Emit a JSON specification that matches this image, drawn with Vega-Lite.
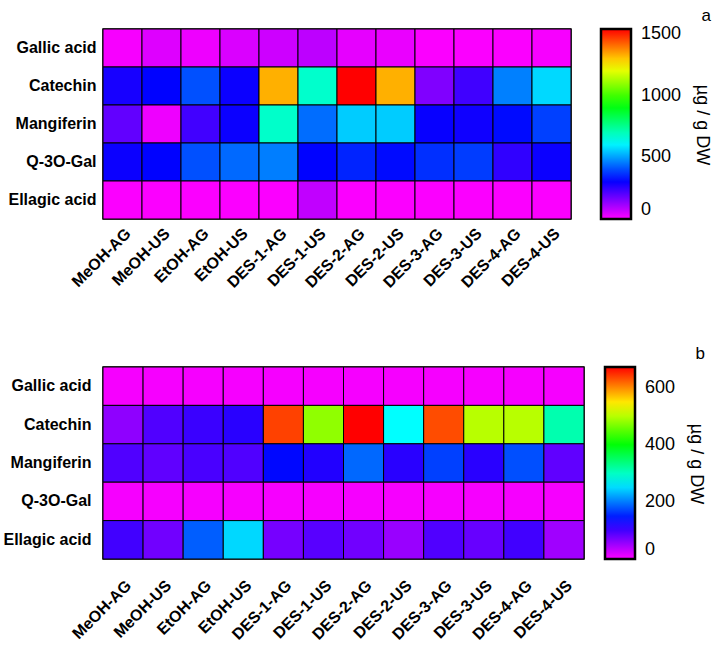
{
  "$schema": "https://vega.github.io/schema/vega-lite/v6.json",
  "background": "white",
  "padding": {"left": 2, "top": 5, "right": 4, "bottom": 0},
  "config": {
    "font": "Liberation Sans",
    "view": {"stroke": "black", "strokeWidth": 1.5},
    "axis": {"labelColor": "black", "labelFontWeight": "bold", "labelFontSize": 16, "ticks": false, "domain": false, "grid": false, "title": null},
    "legend": {"labelColor": "black", "labelFontSize": 18, "titleFontSize": 18, "titleFontWeight": "normal", "titleColor": "black"},
    "title": {"fontSize": 17, "fontWeight": "normal", "color": "black", "anchor": "end"}
  },
  "datasets": {
    "a": [
      {"sample": "MeOH-AG", "compound": "Gallic acid", "value": 10},
      {"sample": "MeOH-US", "compound": "Gallic acid", "value": 40},
      {"sample": "EtOH-AG", "compound": "Gallic acid", "value": 20},
      {"sample": "EtOH-US", "compound": "Gallic acid", "value": 45},
      {"sample": "DES-1-AG", "compound": "Gallic acid", "value": 60},
      {"sample": "DES-1-US", "compound": "Gallic acid", "value": 80},
      {"sample": "DES-2-AG", "compound": "Gallic acid", "value": 30},
      {"sample": "DES-2-US", "compound": "Gallic acid", "value": 25},
      {"sample": "DES-3-AG", "compound": "Gallic acid", "value": 5},
      {"sample": "DES-3-US", "compound": "Gallic acid", "value": 5},
      {"sample": "DES-4-AG", "compound": "Gallic acid", "value": 5},
      {"sample": "DES-4-US", "compound": "Gallic acid", "value": 10},
      {"sample": "MeOH-AG", "compound": "Catechin", "value": 280},
      {"sample": "MeOH-US", "compound": "Catechin", "value": 310},
      {"sample": "EtOH-AG", "compound": "Catechin", "value": 405},
      {"sample": "EtOH-US", "compound": "Catechin", "value": 295},
      {"sample": "DES-1-AG", "compound": "Catechin", "value": 1327},
      {"sample": "DES-1-US", "compound": "Catechin", "value": 678},
      {"sample": "DES-2-AG", "compound": "Catechin", "value": 1540},
      {"sample": "DES-2-US", "compound": "Catechin", "value": 1327},
      {"sample": "DES-3-AG", "compound": "Catechin", "value": 154},
      {"sample": "DES-3-US", "compound": "Catechin", "value": 231},
      {"sample": "DES-4-AG", "compound": "Catechin", "value": 462},
      {"sample": "DES-4-US", "compound": "Catechin", "value": 570},
      {"sample": "MeOH-AG", "compound": "Mangiferin", "value": 190},
      {"sample": "MeOH-US", "compound": "Mangiferin", "value": 20},
      {"sample": "EtOH-AG", "compound": "Mangiferin", "value": 230},
      {"sample": "EtOH-US", "compound": "Mangiferin", "value": 295},
      {"sample": "DES-1-AG", "compound": "Mangiferin", "value": 680},
      {"sample": "DES-1-US", "compound": "Mangiferin", "value": 440},
      {"sample": "DES-2-AG", "compound": "Mangiferin", "value": 555},
      {"sample": "DES-2-US", "compound": "Mangiferin", "value": 555},
      {"sample": "DES-3-AG", "compound": "Mangiferin", "value": 300},
      {"sample": "DES-3-US", "compound": "Mangiferin", "value": 290},
      {"sample": "DES-4-AG", "compound": "Mangiferin", "value": 320},
      {"sample": "DES-4-US", "compound": "Mangiferin", "value": 385},
      {"sample": "MeOH-AG", "compound": "Q-3O-Gal", "value": 295},
      {"sample": "MeOH-US", "compound": "Q-3O-Gal", "value": 310},
      {"sample": "EtOH-AG", "compound": "Q-3O-Gal", "value": 405},
      {"sample": "EtOH-US", "compound": "Q-3O-Gal", "value": 435},
      {"sample": "DES-1-AG", "compound": "Q-3O-Gal", "value": 460},
      {"sample": "DES-1-US", "compound": "Q-3O-Gal", "value": 310},
      {"sample": "DES-2-AG", "compound": "Q-3O-Gal", "value": 350},
      {"sample": "DES-2-US", "compound": "Q-3O-Gal", "value": 320},
      {"sample": "DES-3-AG", "compound": "Q-3O-Gal", "value": 365},
      {"sample": "DES-3-US", "compound": "Q-3O-Gal", "value": 380},
      {"sample": "DES-4-AG", "compound": "Q-3O-Gal", "value": 250},
      {"sample": "DES-4-US", "compound": "Q-3O-Gal", "value": 295},
      {"sample": "MeOH-AG", "compound": "Ellagic acid", "value": 5},
      {"sample": "MeOH-US", "compound": "Ellagic acid", "value": 5},
      {"sample": "EtOH-AG", "compound": "Ellagic acid", "value": 5},
      {"sample": "EtOH-US", "compound": "Ellagic acid", "value": 5},
      {"sample": "DES-1-AG", "compound": "Ellagic acid", "value": 5},
      {"sample": "DES-1-US", "compound": "Ellagic acid", "value": 75},
      {"sample": "DES-2-AG", "compound": "Ellagic acid", "value": 5},
      {"sample": "DES-2-US", "compound": "Ellagic acid", "value": 5},
      {"sample": "DES-3-AG", "compound": "Ellagic acid", "value": 5},
      {"sample": "DES-3-US", "compound": "Ellagic acid", "value": 5},
      {"sample": "DES-4-AG", "compound": "Ellagic acid", "value": 5},
      {"sample": "DES-4-US", "compound": "Ellagic acid", "value": 5}
    ],
    "b": [
      {"sample": "MeOH-AG", "compound": "Gallic acid", "value": 5},
      {"sample": "MeOH-US", "compound": "Gallic acid", "value": 5},
      {"sample": "EtOH-AG", "compound": "Gallic acid", "value": 5},
      {"sample": "EtOH-US", "compound": "Gallic acid", "value": 5},
      {"sample": "DES-1-AG", "compound": "Gallic acid", "value": 5},
      {"sample": "DES-1-US", "compound": "Gallic acid", "value": 5},
      {"sample": "DES-2-AG", "compound": "Gallic acid", "value": 5},
      {"sample": "DES-2-US", "compound": "Gallic acid", "value": 5},
      {"sample": "DES-3-AG", "compound": "Gallic acid", "value": 5},
      {"sample": "DES-3-US", "compound": "Gallic acid", "value": 5},
      {"sample": "DES-4-AG", "compound": "Gallic acid", "value": 5},
      {"sample": "DES-4-US", "compound": "Gallic acid", "value": 5},
      {"sample": "MeOH-AG", "compound": "Catechin", "value": 59},
      {"sample": "MeOH-US", "compound": "Catechin", "value": 92},
      {"sample": "EtOH-AG", "compound": "Catechin", "value": 104},
      {"sample": "EtOH-US", "compound": "Catechin", "value": 113},
      {"sample": "DES-1-AG", "compound": "Catechin", "value": 638},
      {"sample": "DES-1-US", "compound": "Catechin", "value": 479},
      {"sample": "DES-2-AG", "compound": "Catechin", "value": 672},
      {"sample": "DES-2-US", "compound": "Catechin", "value": 269},
      {"sample": "DES-3-AG", "compound": "Catechin", "value": 632},
      {"sample": "DES-3-US", "compound": "Catechin", "value": 500},
      {"sample": "DES-4-AG", "compound": "Catechin", "value": 500},
      {"sample": "DES-4-US", "compound": "Catechin", "value": 311},
      {"sample": "MeOH-AG", "compound": "Mangiferin", "value": 92},
      {"sample": "MeOH-US", "compound": "Mangiferin", "value": 84},
      {"sample": "EtOH-AG", "compound": "Mangiferin", "value": 96},
      {"sample": "EtOH-US", "compound": "Mangiferin", "value": 92},
      {"sample": "DES-1-AG", "compound": "Mangiferin", "value": 138},
      {"sample": "DES-1-US", "compound": "Mangiferin", "value": 117},
      {"sample": "DES-2-AG", "compound": "Mangiferin", "value": 189},
      {"sample": "DES-2-US", "compound": "Mangiferin", "value": 113},
      {"sample": "DES-3-AG", "compound": "Mangiferin", "value": 168},
      {"sample": "DES-3-US", "compound": "Mangiferin", "value": 113},
      {"sample": "DES-4-AG", "compound": "Mangiferin", "value": 176},
      {"sample": "DES-4-US", "compound": "Mangiferin", "value": 84},
      {"sample": "MeOH-AG", "compound": "Q-3O-Gal", "value": 5},
      {"sample": "MeOH-US", "compound": "Q-3O-Gal", "value": 5},
      {"sample": "EtOH-AG", "compound": "Q-3O-Gal", "value": 5},
      {"sample": "EtOH-US", "compound": "Q-3O-Gal", "value": 5},
      {"sample": "DES-1-AG", "compound": "Q-3O-Gal", "value": 5},
      {"sample": "DES-1-US", "compound": "Q-3O-Gal", "value": 5},
      {"sample": "DES-2-AG", "compound": "Q-3O-Gal", "value": 5},
      {"sample": "DES-2-US", "compound": "Q-3O-Gal", "value": 5},
      {"sample": "DES-3-AG", "compound": "Q-3O-Gal", "value": 5},
      {"sample": "DES-3-US", "compound": "Q-3O-Gal", "value": 5},
      {"sample": "DES-4-AG", "compound": "Q-3O-Gal", "value": 5},
      {"sample": "DES-4-US", "compound": "Q-3O-Gal", "value": 5},
      {"sample": "MeOH-AG", "compound": "Ellagic acid", "value": 100},
      {"sample": "MeOH-US", "compound": "Ellagic acid", "value": 75},
      {"sample": "EtOH-AG", "compound": "Ellagic acid", "value": 184},
      {"sample": "EtOH-US", "compound": "Ellagic acid", "value": 248},
      {"sample": "DES-1-AG", "compound": "Ellagic acid", "value": 72},
      {"sample": "DES-1-US", "compound": "Ellagic acid", "value": 88},
      {"sample": "DES-2-AG", "compound": "Ellagic acid", "value": 75},
      {"sample": "DES-2-US", "compound": "Ellagic acid", "value": 54},
      {"sample": "DES-3-AG", "compound": "Ellagic acid", "value": 92},
      {"sample": "DES-3-US", "compound": "Ellagic acid", "value": 80},
      {"sample": "DES-4-AG", "compound": "Ellagic acid", "value": 100},
      {"sample": "DES-4-US", "compound": "Ellagic acid", "value": 50}
    ]
  },
  "concat": [
    {
      "data": {"name": "a"},
      "title": {"text": "a", "offset": 4},
      "width": 468,
      "height": 190,
      "mark": {"type": "rect", "stroke": "black", "strokeWidth": 1},
      "encoding": {
        "x": {"field": "sample", "type": "nominal", "sort": null, "axis": {"labelAngle": -45, "labelPadding": 6}},
        "y": {"field": "compound", "type": "nominal", "sort": null, "axis": {"labelPadding": 7}},
        "color": {
          "field": "value", "type": "quantitative",
          "scale": {"domain": [0, 308, 616, 924, 1232, 1540], "range": ["#ff00ff", "#0000ff", "#00ffff", "#00ff00", "#ffff00", "#ff0000"], "interpolate": "rgb"},
          "legend": {"title": "µg / g DW", "values": [0, 500, 1000, 1500], "format": "d", "gradientLength": 190, "gradientThickness": 30, "gradientStrokeColor": "black", "gradientStrokeWidth": 2.5, "offset": 30, "labelOffset": 10, "titleOrient": "right", "titleAngle": 270, "titleAnchor": "middle", "titlePadding": 12}
        }
      }
    },
    {
      "data": {"name": "b"},
      "title": {"text": "b", "offset": 4},
      "width": 481,
      "height": 192,
      "mark": {"type": "rect", "stroke": "black", "strokeWidth": 1},
      "encoding": {
        "x": {"field": "sample", "type": "nominal", "sort": null, "axis": {"labelAngle": -45, "labelPadding": 18}},
        "y": {"field": "compound", "type": "nominal", "sort": null, "axis": {"labelPadding": 8, "offset": 4}},
        "color": {
          "field": "value", "type": "quantitative",
          "scale": {"domain": [0, 134.4, 268.8, 403.2, 537.6, 672], "range": ["#ff00ff", "#0000ff", "#00ffff", "#00ff00", "#ffff00", "#ff0000"], "interpolate": "rgb"},
          "legend": {"title": "µg / g DW", "values": [0, 200, 400, 600], "format": "d", "gradientLength": 192, "gradientThickness": 30, "gradientStrokeColor": "black", "gradientStrokeWidth": 2.5, "offset": 21, "labelOffset": 10, "titleOrient": "right", "titleAngle": 270, "titleAnchor": "middle", "titlePadding": 12}
        }
      }
    }
  ],
  "columns": 1,
  "align": "none",
  "spacing": 51,
  "resolve": {"scale": {"color": "independent"}}
}
